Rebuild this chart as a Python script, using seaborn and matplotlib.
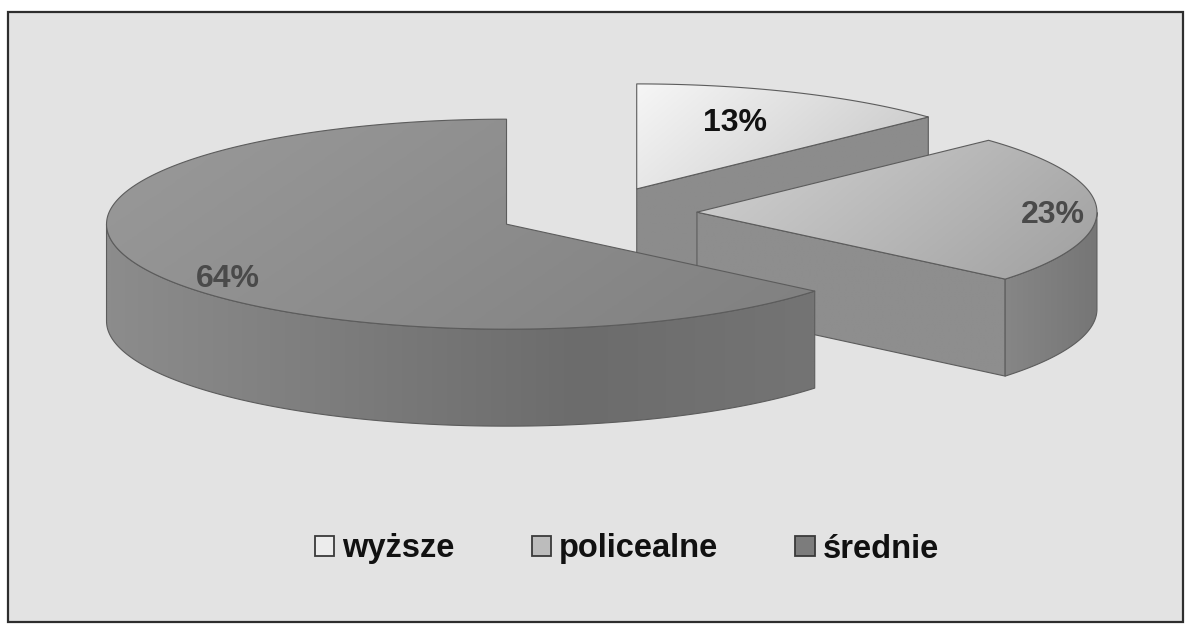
import numpy as np
import seaborn as sns
import matplotlib.pyplot as plt
from matplotlib.patches import Polygon, Rectangle, Patch

# Seaborn
sns.set_theme(style="white")
plt.rcParams['font.family'] = ['Liberation Sans', 'DejaVu Sans']

# ---------------------------------
# Data
# ---------------------------------
labels = ["wyższe", "policealne", "średnie"]
values = [13, 23, 64]
pct_labels = ["13%", "23%", "64%"]

# ---------------------------------
# Styling / layout (pixels)
# ---------------------------------
W, H = 1190, 629
C0 = (597, 213)          # pie centre before explosion
RX, RY = 400, 105        # ellipse radii of the top face
DEPTH = 97               # thickness of the pie
EXPLODE = 0.25           # explosion, fraction of radius
EDGE = '#5c5c5c'

top_cols = [('#f6f6f6', '#c4c4c4'), ('#d2d2d2', '#a0a0a0'), ('#9a9a9a', '#808080')]
cut_cols = ['#8c8c8c', '#8e8e8e', '#7e7e7e']
wall_cols = [['#8a8a8a', '#7c7c7c'], ['#868686', '#767676'],
             ['#8c8c8c', '#7c7c7c', '#6c6c6c', '#747474']]
legend_cols = ['#ececec', '#bcbcbc', '#7c7c7c']
label_r = [0.62, 0.89, 0.77]
label_dy = [-6, 6, 20]
label_style = [('#111111', 'bold'), ('#4a4a4a', 'bold'), ('#4a4a4a', 'bold')]


def pt(c, ang, r=1.0):
    a = np.radians(ang)
    return np.array([c[0] + RX * r * np.cos(a), c[1] - RY * r * np.sin(a)])


def shade(ax, xy, cols, z, diag=0.0):
    poly = Polygon(xy, closed=True, facecolor='none', edgecolor=EDGE,
                   lw=0.8, zorder=z + 0.5, joinstyle='round')
    ax.add_patch(poly)
    x0, y0 = xy.min(0)
    x1, y1 = xy.max(0)
    gx = np.linspace(0, 1, 300)[None, :]
    gy = np.linspace(0, 1, 150)[:, None]
    grad = (1 - diag) * gx + diag * gy
    cmap = sns.blend_palette(cols, as_cmap=True)
    im = ax.imshow(grad, cmap=cmap, extent=(x0, x1, y1, y0), aspect='auto',
                   zorder=z, interpolation='bilinear', vmin=0, vmax=1)
    im.set_clip_path(poly)


fig = plt.figure(figsize=(W / 100, H / 100), dpi=100)
ax = fig.add_axes([0, 0, 1, 1])
ax.set_axis_off()

# Frame of the chart area
ax.add_patch(Rectangle((8, 12), 1175, 610, facecolor='#e3e3e3',
                       edgecolor='#2e2e2e', lw=1.6, zorder=0))

# Slice angles (clockwise from 12 o'clock)
cum = np.cumsum([0] + values[:-1])
z = 1
for i, v in enumerate(values):
    a2 = 90 - cum[i] * 3.6
    a1 = a2 - v * 3.6
    mid = (a1 + a2) / 2
    c = pt(C0, mid, EXPLODE)

    # radial cut faces
    for ang, normal in ((a1, a1 - 90), (a2, a2 + 90)):
        if np.sin(np.radians(normal)) < -1e-6:
            p0, p1 = pt(c, ang, 0), pt(c, ang)
            xy = np.array([p0, p1, p1 + [0, DEPTH], p0 + [0, DEPTH]])
            shade(ax, xy, [cut_cols[i], cut_cols[i]], z)
            z += 1

    # outer (front) wall
    angs = np.linspace(a1, a2, 400)
    vis = angs[np.sin(np.radians(angs)) <= 1e-9]
    if len(vis) > 1:
        top = np.array([pt(c, a) for a in vis])
        xy = np.vstack([top, (top + [0, DEPTH])[::-1]])
        shade(ax, xy, wall_cols[i], z)
        z += 1

    # top face
    arc = np.array([pt(c, a) for a in np.linspace(a1, a2, 400)])
    xy = np.vstack([[c], arc])
    shade(ax, xy, list(top_cols[i]), z, diag=0.3)
    z += 1

    # percent label
    lp = pt(c, mid, label_r[i])
    ax.text(lp[0], lp[1] + label_dy[i], pct_labels[i], ha='center', va='center',
            fontsize=23, color=label_style[i][0], fontweight=label_style[i][1],
            zorder=50)

# Legend
handles = [Patch(facecolor=col, edgecolor='#3a3a3a', lw=1.3) for col in legend_cols]
leg = ax.legend(handles, labels, loc='center', bbox_to_anchor=(627 / W, 1 - 549 / H),
                ncol=3, frameon=False, handlelength=0.6, handleheight=0.6,
                handletextpad=0.25, columnspacing=2.35,
                prop={'weight': 'bold', 'size': 23.5})
for t in leg.get_texts():
    t.set_color('#111111')

ax.set_xlim(0, W)
ax.set_ylim(H, 0)
fig.savefig('out.png', dpi=100, facecolor='white')
